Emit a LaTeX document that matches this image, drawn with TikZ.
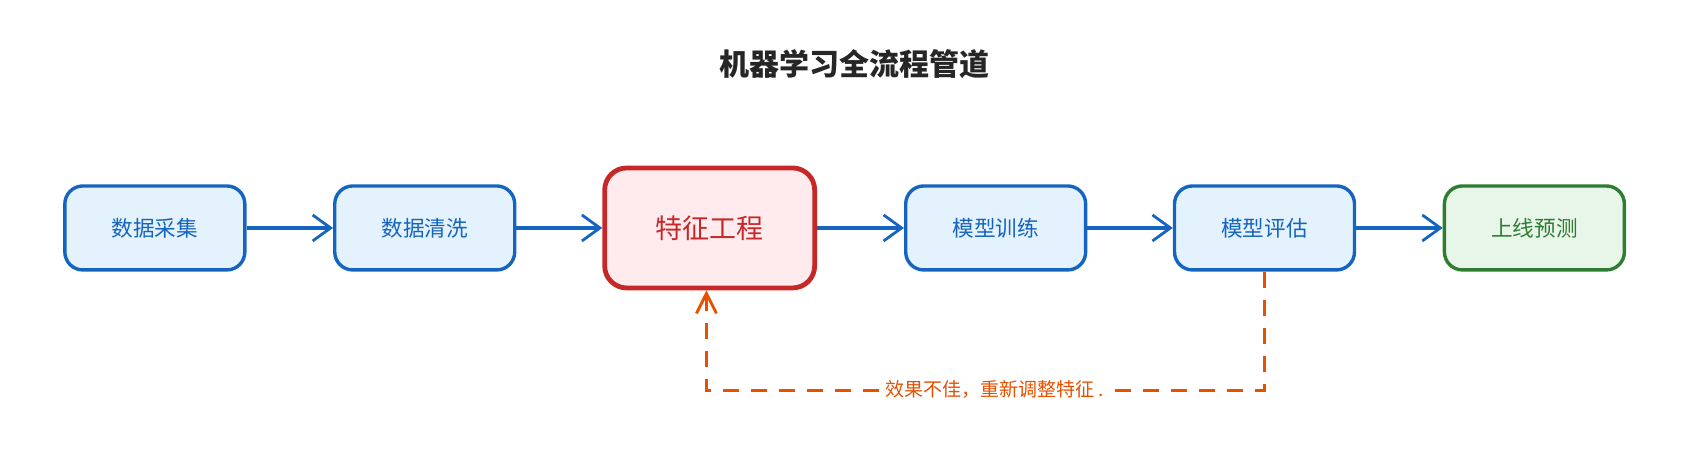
\documentclass[tikz,border=0pt]{standalone}
\usepackage{fontspec}
\newfontfamily\cjk{Noto Sans CJK SC}
\usetikzlibrary{arrows.meta}
\definecolor{bluel}{HTML}{1565C0}\definecolor{bluef}{HTML}{E3F2FD}
\definecolor{redl}{HTML}{C62828}\definecolor{redf}{HTML}{FFEBEE}
\definecolor{grnl}{HTML}{2E7D32}\definecolor{grnf}{HTML}{E8F5E9}
\definecolor{orl}{HTML}{E65100}
\begin{document}
\begin{tikzpicture}[x=0.5377pt,y=-0.5377pt,
 box/.style={draw=bluel,fill=bluef,text=bluel,line width=1.7pt,rounded corners=9pt,minimum width=90pt,minimum height=42pt,font=\cjk\fontsize{10.8}{12}\selectfont},
 hot/.style={draw=redl,fill=redf,text=redl,line width=2.4pt,rounded corners=11pt,minimum width=105pt,minimum height=60pt,font=\cjk\fontsize{13.5}{15}\selectfont},
 fin/.style={box,draw=grnl,fill=grnf,text=grnl},
 flow/.style={draw=bluel,line width=1.6pt,-{Straight Barb[length=9pt,width=13pt,line width=1.4pt]}},
 back/.style={draw=orl,line width=1.6pt,dash pattern=on 8pt off 6pt,-{Straight Barb[length=10pt,width=10pt,line width=1.4pt]}}]
\useasboundingbox (0,0) rectangle (1568,434);
\node[font=\cjk\bfseries\fontsize{15}{17}\selectfont,text=black!85] (t) at (795,60) {机器学习全流程管道};
\node[box] (a) at (144,212) {数据采集};
\node[box] (b) at (395,212) {数据清洗};
\node[hot] (c) at (660,212) {特征工程};
\node[box] (d) at (926,212) {模型训练};
\node[box] (e) at (1176,212) {模型评估};
\node[fin] (f) at (1427,212) {上线预测};
\draw[flow] (a) -- (b); \draw[flow] (b) -- (c); \draw[flow] (c) -- (d);
\draw[flow] (d) -- (e); \draw[flow] (e) -- (f);
\coordinate (p1) at (1176,363); \coordinate (p2) at (657,363);
\draw[back] (e.south) -- (p1) -- (p2) -- (c.south -| p2);
\node[fill=white,text=orl,font=\cjk\fontsize{9.5}{11}\selectfont,inner sep=3pt] (l) at (925,362) {效果不佳，重新调整特征 .};
\end{tikzpicture}
\end{document}
